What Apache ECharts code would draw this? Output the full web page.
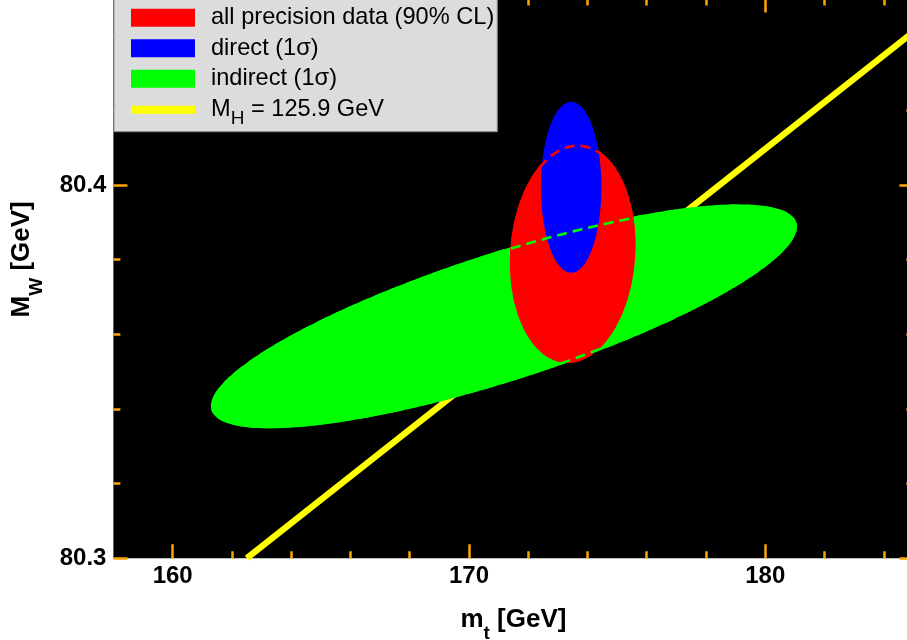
<!DOCTYPE html>
<html>
<head>
<meta charset="utf-8">
<script src="https://cdn.jsdelivr.net/npm/echarts@6/dist/echarts.min.js"></script>
<style>
html,body{margin:0;padding:0;background:#fff;}
#chart{width:907px;height:640px;}
</style>
</head>
<body>
<div id="chart"></div>
<script>
// ---- data ----
const xMajorTicks = [160, 170, 180];
const xMinorTicks = [162, 164, 166, 168, 172, 174, 176, 178, 182, 184];
const yMajorTicks = [80.3, 80.4];
const yMinorTicks = [80.32, 80.34, 80.36, 80.38, 80.42, 80.44];
const legendNames = ['all precision data (90% CL)', 'direct (1σ)', 'indirect (1σ)', 'M_H = 125.9 GeV'];
// ellipse: [m_t centre, M_W centre, sigma m_t, sigma M_W, correlation]
const allPrecision = [173.50, 80.3816, 2.12, 0.0293, 0.08];
const direct = [173.45, 80.3994, 1.02, 0.0229, 0.0];
const indirect = [171.18, 80.3648, 9.89, 0.0300, 0.80];
// M_H = 125.9 GeV line
const higgsLine = [[162.5, 80.3], [185, 80.441]];

const FONT = '"Liberation Sans", Arial, Helvetica, sans-serif';
const TICK = '#ffa500';

function ellipse(fill, strokeColor) {
  return function (params, api) {
    const cx = api.value(0), cy = api.value(1), sx = api.value(2), sy = api.value(3), r = api.value(4);
    const n = 360, pts = [];
    const k = Math.sqrt(1 - r * r);
    for (let i = 0; i < n; i++) {
      const t = 2 * Math.PI * i / n;
      pts.push(api.coord([cx + sx * Math.cos(t), cy + sy * (r * Math.cos(t) + k * Math.sin(t))]));
    }
    if (fill) {
      return { type: 'polygon', shape: { points: pts }, style: { fill: api.visual('color'), stroke: null } };
    }
    // keep the dashed outline just inside the filled area
    const c = api.coord([cx, cy]);
    const inset = 1.4;
    const ins = pts.map(function (p, i) {
      const a = pts[(i - 1 + n) % n], b = pts[(i + 1) % n];
      let nx = -(b[1] - a[1]), ny = b[0] - a[0];
      const L = Math.hypot(nx, ny) || 1;
      nx /= L; ny /= L;
      if (nx * (c[0] - p[0]) + ny * (c[1] - p[1]) < 0) { nx = -nx; ny = -ny; }
      return [p[0] + nx * inset, p[1] + ny * inset];
    });
    return { type: 'polygon', shape: { points: ins }, style: { fill: null, stroke: strokeColor, lineWidth: 2.6, lineDash: [10, 6] } };
  };
}

const nameRich = {
  a: { fontSize: 26, fontWeight: 'bold', fontFamily: FONT, color: '#000', lineHeight: 30, padding: [12, 0, 12, 0] },
  s: { fontSize: 19, fontWeight: 'bold', fontFamily: FONT, color: '#000', lineHeight: 20, padding: [31, 0, 3, 0] }
};

function xAxisDef(pos, ticks, len, withLabels) {
  const a = {
    type: 'value', min: 158, max: 185, position: pos, gridIndex: 0,
    axisLine: { show: false }, splitLine: { show: false },
    axisTick: { show: true, inside: true, length: len, customValues: ticks, lineStyle: { color: TICK, width: 2.5 } },
    axisLabel: { show: false }
  };
  if (withLabels) {
    a.axisLabel = { show: true, customValues: xMajorTicks, margin: 6, fontSize: 24, fontWeight: 'bold', fontFamily: FONT, color: '#000' };
    a.name = '{a|m}{s|t}{a| [GeV]}';
    a.nameLocation = 'middle';
    a.nameGap = 35;
    a.nameTextStyle = { rich: nameRich };
  }
  return a;
}
function yAxisDef(pos, ticks, len, withLabels) {
  const a = {
    type: 'value', min: 80.3, max: 80.45, position: pos, gridIndex: 0,
    axisLine: { show: false }, splitLine: { show: false },
    axisTick: { show: true, inside: true, length: len, customValues: ticks, lineStyle: { color: TICK, width: 2.5 } },
    axisLabel: { show: false }
  };
  if (withLabels) {
    a.axisLabel = { show: true, customValues: yMajorTicks, margin: 7, fontSize: 24, fontWeight: 'bold', fontFamily: FONT, color: '#000',
      formatter: v => Number(v).toFixed(1) };
    a.name = '{a|M}{s|W}{a| [GeV]}';
    a.nameLocation = 'middle';
    a.nameGap = 64;
    a.nameTextStyle = { padding: [0, 0, 0, 38], rich: nameRich };
  }
  return a;
}

const chart = echarts.init(document.getElementById('chart'), null, { renderer: 'canvas' });
chart.setOption({
  animation: false,
  backgroundColor: '#ffffff',
  grid: { left: 113.4, top: -1.6, right: -6.4, bottom: 81.8, show: true, backgroundColor: '#000000', borderWidth: 0, outerBoundsMode: 'none', containLabel: false },
  xAxis: [
    xAxisDef('bottom', xMajorTicks, 14, true),
    xAxisDef('bottom', xMinorTicks, 7, false),
    xAxisDef('top', xMajorTicks, 14, false),
    xAxisDef('top', xMinorTicks, 7, false)
  ],
  yAxis: [
    yAxisDef('left', yMajorTicks, 14, true),
    yAxisDef('left', yMinorTicks, 7, false),
    yAxisDef('right', yMajorTicks, 14, false),
    yAxisDef('right', yMinorTicks, 7, false)
  ],
  legend: {
    orient: 'vertical', left: 114, top: -1.3,
    padding: [0.5, 3, 3, 13],
    itemWidth: 64, itemHeight: 18, itemGap: -6.5,
    backgroundColor: '#dcdcdc', borderColor: '#8a8a8a', borderWidth: 1,
    selectedMode: false,
    textStyle: { fontSize: 23.6, fontFamily: FONT, color: '#000', lineHeight: 37, padding: [0, 0, 0, 11],
      rich: {
        n: { fontSize: 23.6, fontFamily: FONT, color: '#000', lineHeight: 18 },
        s: { fontSize: 19, fontFamily: FONT, color: '#000', lineHeight: 18, padding: [19, 0, 0, 0] }
      }
    },
    formatter: function (name) {
      if (name === legendNames[3]) return '{n|M}{s|H}{n| = 125.9 GeV}';
      return name;
    },
    data: [
      { name: legendNames[0], icon: 'rect' },
      { name: legendNames[1], icon: 'rect' },
      { name: legendNames[2], icon: 'rect' },
      { name: legendNames[3], lineStyle: { width: 8 }, itemStyle: { opacity: 0 } }
    ]
  },
  series: [
    { type: 'line', name: legendNames[3], data: higgsLine, symbol: 'none', z: 1, lineStyle: { color: '#ffff00', width: 6.3 }, itemStyle: { color: '#ffff00' }, clip: true },
    { type: 'custom', name: legendNames[2], data: [indirect], renderItem: ellipse(true), z: 3, itemStyle: { color: '#00ff00' }, encode: { x: 0, y: 1 }, clip: true },
    { type: 'custom', name: legendNames[0], data: [allPrecision], renderItem: ellipse(true), z: 3, itemStyle: { color: '#ff0000' }, encode: { x: 0, y: 1 }, clip: true },
    { type: 'custom', name: legendNames[1], data: [direct], renderItem: ellipse(true), z: 3, itemStyle: { color: '#0000ff' }, encode: { x: 0, y: 1 }, clip: true },
    { type: 'custom', name: 'outline-all', data: [allPrecision], renderItem: ellipse(false, '#ff0000'), z: 4, encode: { x: 0, y: 1 }, clip: true, silent: true },
    { type: 'custom', name: 'outline-indirect', data: [indirect], renderItem: ellipse(false, '#00ff00'), z: 4, encode: { x: 0, y: 1 }, clip: true, silent: true }
  ]
});
</script>
</body>
</html>
